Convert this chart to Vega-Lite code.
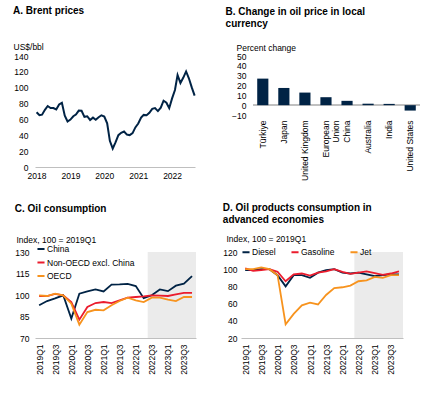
{
  "$schema": "https://vega.github.io/schema/vega-lite/v6.json",
  "padding": {"left": 13, "top": 6, "right": 5, "bottom": 5},
  "config": {
    "font": "Liberation Sans",
    "view": {"stroke": null},
    "title": {"anchor": "start", "frame": "bounds", "fontSize": 10, "fontWeight": "bold", "color": "#000000", "font": "Liberation Sans", "lineHeight": 12},
    "axis": {"labelFont": "Liberation Sans", "labelFontSize": 8.5, "labelColor": "#000000", "titleFont": "Liberation Sans", "titleFontSize": 8.5, "titleFontWeight": "normal", "titleColor": "#000000", "ticks": false, "grid": false, "domainColor": "#bfbfbf", "labelOverlap": false},
    "legend": {"labelFont": "Liberation Sans", "labelFontSize": 8.5, "labelColor": "#000000", "symbolType": "stroke", "symbolStrokeWidth": 2, "symbolSize": 50, "labelOffset": 1, "padding": 0, "rowPadding": 3.5}
  },
  "resolve": {"scale": {"color": "independent"}, "legend": {"color": "independent"}},
  "spacing": 22,
  "vconcat": [
    {
      "spacing": 26,
      "hconcat": [
        {
          "title": {"text": "A. Brent prices", "offset": 26},
          "width": 160,
          "height": 111,
          "data": {"values": [
            {"date": "2018-01-01", "price": 69.1}, {"date": "2018-02-01", "price": 65.3}, {"date": "2018-03-01", "price": 66.0}, {"date": "2018-04-01", "price": 72.1}, {"date": "2018-05-01", "price": 76.9}, {"date": "2018-06-01", "price": 74.4}, {"date": "2018-07-01", "price": 74.3}, {"date": "2018-08-01", "price": 72.5}, {"date": "2018-09-01", "price": 78.9}, {"date": "2018-10-01", "price": 81.0}, {"date": "2018-11-01", "price": 64.8}, {"date": "2018-12-01", "price": 57.4},
            {"date": "2019-01-01", "price": 59.8}, {"date": "2019-02-01", "price": 64.0}, {"date": "2019-03-01", "price": 66.1}, {"date": "2019-04-01", "price": 71.2}, {"date": "2019-05-01", "price": 71.0}, {"date": "2019-06-01", "price": 63.3}, {"date": "2019-07-01", "price": 64.0}, {"date": "2019-08-01", "price": 59.3}, {"date": "2019-09-01", "price": 62.3}, {"date": "2019-10-01", "price": 59.6}, {"date": "2019-11-01", "price": 62.7}, {"date": "2019-12-01", "price": 65.2},
            {"date": "2020-01-01", "price": 63.6}, {"date": "2020-02-01", "price": 55.0}, {"date": "2020-03-01", "price": 33.0}, {"date": "2020-04-01", "price": 23.3}, {"date": "2020-05-01", "price": 31.0}, {"date": "2020-06-01", "price": 40.1}, {"date": "2020-07-01", "price": 43.2}, {"date": "2020-08-01", "price": 44.7}, {"date": "2020-09-01", "price": 40.9}, {"date": "2020-10-01", "price": 40.2}, {"date": "2020-11-01", "price": 42.7}, {"date": "2020-12-01", "price": 49.9},
            {"date": "2021-01-01", "price": 54.8}, {"date": "2021-02-01", "price": 62.2}, {"date": "2021-03-01", "price": 65.7}, {"date": "2021-04-01", "price": 65.3}, {"date": "2021-05-01", "price": 68.3}, {"date": "2021-06-01", "price": 73.4}, {"date": "2021-07-01", "price": 74.3}, {"date": "2021-08-01", "price": 70.5}, {"date": "2021-09-01", "price": 74.9}, {"date": "2021-10-01", "price": 83.6}, {"date": "2021-11-01", "price": 81.1}, {"date": "2021-12-01", "price": 74.2},
            {"date": "2022-01-01", "price": 86.5}, {"date": "2022-02-01", "price": 97.1}, {"date": "2022-03-01", "price": 116.0}, {"date": "2022-04-01", "price": 106.0}, {"date": "2022-05-01", "price": 112.5}, {"date": "2022-06-01", "price": 120.5}, {"date": "2022-07-01", "price": 111.9}, {"date": "2022-08-01", "price": 100.4}, {"date": "2022-09-01", "price": 90.0}
          ]},
          "mark": {"type": "line", "color": "#002345", "strokeWidth": 2},
          "encoding": {
            "x": {"field": "date", "type": "temporal",
              "scale": {"type": "utc", "domain": [{"year": 2017, "month": 12, "date": 15, "utc": true}, {"year": 2022, "month": 9, "date": 5, "utc": true}]},
              "axis": {"title": null, "format": "%Y", "tickCount": {"interval": "year", "step": 1}, "labelFlush": false, "labelPadding": 4}},
            "y": {"field": "price", "type": "quantitative",
              "scale": {"domain": [0, 140], "nice": false},
              "axis": {"title": "US$/bbl", "values": [0, 20, 40, 60, 80, 100, 120, 140], "domain": false, "labelPadding": 7, "titleAngle": 0, "titleAlign": "left", "titleBaseline": "middle", "titleX": -22, "titleY": -10}}
          }
        },
        {
          "title": {"text": ["B. Change in oil price in local", "currency"], "offset": 14, "dx": -6},
          "width": 167,
          "height": 59,
          "data": {"values": [
            {"country": "Türkiye", "change": 27.0},
            {"country": "Japan", "change": 17.5},
            {"country": "United Kingdom", "change": 12.8},
            {"country": "European Union", "change": 8.1},
            {"country": "China", "change": 4.4},
            {"country": "Australia", "change": 1.5},
            {"country": "India", "change": 1.3},
            {"country": "United States", "change": -5.5}
          ]},
          "layer": [
            {
              "mark": {"type": "rule", "color": "#bfbfbf"},
              "encoding": {"y": {"datum": 0, "type": "quantitative",
                  "scale": {"domain": [-10, 50], "nice": false, "zero": false},
                  "axis": {"title": "Percent change", "values": [-10, 0, 10, 20, 30, 40, 50], "domain": false, "labelPadding": 7, "titleAngle": 0, "titleAlign": "left", "titleBaseline": "middle", "titleX": -17, "titleY": -9}}}
            },
            {
              "mark": {"type": "bar", "color": "#002345"},
              "encoding": {
                "x": {"field": "country", "type": "nominal", "sort": null,
                  "scale": {"paddingInner": 0.47, "paddingOuter": 0.2},
                  "axis": {"title": null, "labelAngle": -90, "domain": false, "labelPadding": 5, "labelLineHeight": 10,
                    "labelExpr": "datum.value == 'European Union' ? ['European', 'Union'] : datum.value"}},
                "y": {"field": "change", "type": "quantitative",
                  "scale": {"domain": [-10, 50], "nice": false, "zero": false},
                  "axis": {"title": "Percent change", "values": [-10, 0, 10, 20, 30, 40, 50], "domain": false, "labelPadding": 7, "titleAngle": 0, "titleAlign": "left", "titleBaseline": "middle", "titleX": -17, "titleY": -9}}
              }
            }
          ]
        }
      ],
      "resolve": {"scale": {"color": "independent"}, "legend": {"color": "independent"}}
    },
    {
      "spacing": 26,
      "hconcat": [
        {
          "title": {"text": "C. Oil consumption", "offset": 21},
          "width": 161,
          "height": 86,
          "layer": [
            {
              "data": {"values": [{"start": "2022-05-16", "end": "2023-11-15"}]},
              "mark": {"type": "rect", "color": "#ebebeb"},
              "encoding": {
                "x": {"field": "start", "type": "temporal"},
                "x2": {"field": "end"},
                "y": {"datum": 130, "type": "quantitative",
                  "axis": {"title": "Index, 100 = 2019Q1", "values": [70, 85, 100, 115, 130], "domain": false, "labelPadding": 6, "titleAngle": 0, "titleAlign": "left", "titleBaseline": "middle", "titleX": -19, "titleY": -13}},
                "y2": {"datum": 70}
              }
            },
            {
              "mark": {"type": "rule", "color": "#a6a6a6"},
              "encoding": {"y": {"datum": 100, "type": "quantitative",
                  "axis": {"title": "Index, 100 = 2019Q1", "values": [70, 85, 100, 115, 130], "domain": false, "labelPadding": 6, "titleAngle": 0, "titleAlign": "left", "titleBaseline": "middle", "titleX": -19, "titleY": -13}}}
            },
            {
              "data": {"values": [
                {"q": "2019-01-01", "s": "China", "v": 92.8}, {"q": "2019-04-01", "s": "China", "v": 95.8}, {"q": "2019-07-01", "s": "China", "v": 97.6}, {"q": "2019-10-01", "s": "China", "v": 99.8},
                {"q": "2020-01-01", "s": "China", "v": 83.5}, {"q": "2020-04-01", "s": "China", "v": 100.9}, {"q": "2020-07-01", "s": "China", "v": 102.5}, {"q": "2020-10-01", "s": "China", "v": 103.9},
                {"q": "2021-01-01", "s": "China", "v": 102.5}, {"q": "2021-04-01", "s": "China", "v": 107.2}, {"q": "2021-07-01", "s": "China", "v": 107.4}, {"q": "2021-10-01", "s": "China", "v": 107.8},
                {"q": "2022-01-01", "s": "China", "v": 106.2}, {"q": "2022-04-01", "s": "China", "v": 97.8}, {"q": "2022-07-01", "s": "China", "v": 99.8}, {"q": "2022-10-01", "s": "China", "v": 103.9},
                {"q": "2023-01-01", "s": "China", "v": 102.7}, {"q": "2023-04-01", "s": "China", "v": 106.5}, {"q": "2023-07-01", "s": "China", "v": 107.9}, {"q": "2023-10-01", "s": "China", "v": 113.2},
                {"q": "2019-01-01", "s": "Non-OECD excl. China", "v": 99.3}, {"q": "2019-04-01", "s": "Non-OECD excl. China", "v": 99.3}, {"q": "2019-07-01", "s": "Non-OECD excl. China", "v": 100.8}, {"q": "2019-10-01", "s": "Non-OECD excl. China", "v": 99.7},
                {"q": "2020-01-01", "s": "Non-OECD excl. China", "v": 95.1}, {"q": "2020-04-01", "s": "Non-OECD excl. China", "v": 82.8}, {"q": "2020-07-01", "s": "Non-OECD excl. China", "v": 91.6}, {"q": "2020-10-01", "s": "Non-OECD excl. China", "v": 94.4},
                {"q": "2021-01-01", "s": "Non-OECD excl. China", "v": 95.1}, {"q": "2021-04-01", "s": "Non-OECD excl. China", "v": 94.4}, {"q": "2021-07-01", "s": "Non-OECD excl. China", "v": 96.3}, {"q": "2021-10-01", "s": "Non-OECD excl. China", "v": 98.1},
                {"q": "2022-01-01", "s": "Non-OECD excl. China", "v": 98.6}, {"q": "2022-04-01", "s": "Non-OECD excl. China", "v": 99.0}, {"q": "2022-07-01", "s": "Non-OECD excl. China", "v": 99.7}, {"q": "2022-10-01", "s": "Non-OECD excl. China", "v": 99.5},
                {"q": "2023-01-01", "s": "Non-OECD excl. China", "v": 99.3}, {"q": "2023-04-01", "s": "Non-OECD excl. China", "v": 100.5}, {"q": "2023-07-01", "s": "Non-OECD excl. China", "v": 101.5}, {"q": "2023-10-01", "s": "Non-OECD excl. China", "v": 101.5},
                {"q": "2019-01-01", "s": "OECD", "v": 99.7}, {"q": "2019-04-01", "s": "OECD", "v": 99.3}, {"q": "2019-07-01", "s": "OECD", "v": 100.9}, {"q": "2019-10-01", "s": "OECD", "v": 99.7},
                {"q": "2020-01-01", "s": "OECD", "v": 93.9}, {"q": "2020-04-01", "s": "OECD", "v": 79.3}, {"q": "2020-07-01", "s": "OECD", "v": 88.1}, {"q": "2020-10-01", "s": "OECD", "v": 89.7},
                {"q": "2021-01-01", "s": "OECD", "v": 89.3}, {"q": "2021-04-01", "s": "OECD", "v": 92.8}, {"q": "2021-07-01", "s": "OECD", "v": 95.8}, {"q": "2021-10-01", "s": "OECD", "v": 98.1},
                {"q": "2022-01-01", "s": "OECD", "v": 96.3}, {"q": "2022-04-01", "s": "OECD", "v": 95.1}, {"q": "2022-07-01", "s": "OECD", "v": 98.1}, {"q": "2022-10-01", "s": "OECD", "v": 98.1},
                {"q": "2023-01-01", "s": "OECD", "v": 96.7}, {"q": "2023-04-01", "s": "OECD", "v": 95.8}, {"q": "2023-07-01", "s": "OECD", "v": 98.6}, {"q": "2023-10-01", "s": "OECD", "v": 98.6}
              ]},
              "mark": {"type": "line", "strokeWidth": 1.8},
              "encoding": {
                "x": {"field": "q", "type": "temporal",
                  "scale": {"type": "utc", "domain": [{"year": 2018, "month": 11, "date": 15, "utc": true}, {"year": 2023, "month": 11, "date": 15, "utc": true}]},
                  "axis": {"title": null, "format": "%YQ%q", "tickCount": {"interval": "month", "step": 6}, "labelAngle": -90, "labelFlush": false, "labelOverlap": false, "labelPadding": 6}},
                "y": {"field": "v", "type": "quantitative",
                  "scale": {"domain": [70, 130], "nice": false, "zero": false},
                  "axis": {"title": "Index, 100 = 2019Q1", "values": [70, 85, 100, 115, 130], "domain": false, "labelPadding": 6, "titleAngle": 0, "titleAlign": "left", "titleBaseline": "middle", "titleX": -19, "titleY": -13}},
                "color": {"field": "s", "type": "nominal", "sort": ["China", "Non-OECD excl. China", "OECD"],
                  "scale": {"domain": ["China", "Non-OECD excl. China", "OECD"], "range": ["#002345", "#eb1c2d", "#f7931e"]},
                  "legend": {"title": null, "orient": "none", "legendX": 1, "legendY": -8, "direction": "vertical"}}
              }
            }
          ]
        },
        {
          "title": {"text": ["D. Oil products consumption in", "advanced economies"], "offset": 9},
          "width": 162,
          "height": 86,
          "layer": [
            {
              "data": {"values": [{"start": "2022-05-16", "end": "2023-11-15"}]},
              "mark": {"type": "rect", "color": "#ebebeb"},
              "encoding": {
                "x": {"field": "start", "type": "temporal"},
                "x2": {"field": "end"},
                "y": {"datum": 120, "type": "quantitative",
                  "axis": {"title": "Index, 100 = 2019Q1", "values": [20, 40, 60, 80, 100, 120], "domain": false, "labelPadding": 4, "titleAngle": 0, "titleAlign": "left", "titleBaseline": "middle", "titleX": -15, "titleY": -14}},
                "y2": {"datum": 20}
              }
            },
            {
              "mark": {"type": "rule", "color": "#a6a6a6"},
              "encoding": {"y": {"datum": 100, "type": "quantitative",
                  "axis": {"title": "Index, 100 = 2019Q1", "values": [20, 40, 60, 80, 100, 120], "domain": false, "labelPadding": 4, "titleAngle": 0, "titleAlign": "left", "titleBaseline": "middle", "titleX": -15, "titleY": -14}}}
            },
            {
              "data": {"values": [
                {"q": "2019-01-01", "s": "Diesel", "v": 99}, {"q": "2019-04-01", "s": "Diesel", "v": 99}, {"q": "2019-07-01", "s": "Diesel", "v": 100}, {"q": "2019-10-01", "s": "Diesel", "v": 100},
                {"q": "2020-01-01", "s": "Diesel", "v": 93}, {"q": "2020-04-01", "s": "Diesel", "v": 80}, {"q": "2020-07-01", "s": "Diesel", "v": 93}, {"q": "2020-10-01", "s": "Diesel", "v": 93},
                {"q": "2021-01-01", "s": "Diesel", "v": 90}, {"q": "2021-04-01", "s": "Diesel", "v": 96}, {"q": "2021-07-01", "s": "Diesel", "v": 99}, {"q": "2021-10-01", "s": "Diesel", "v": 100},
                {"q": "2022-01-01", "s": "Diesel", "v": 96}, {"q": "2022-04-01", "s": "Diesel", "v": 95}, {"q": "2022-07-01", "s": "Diesel", "v": 96}, {"q": "2022-10-01", "s": "Diesel", "v": 94},
                {"q": "2023-01-01", "s": "Diesel", "v": 92}, {"q": "2023-04-01", "s": "Diesel", "v": 93}, {"q": "2023-07-01", "s": "Diesel", "v": 94}, {"q": "2023-10-01", "s": "Diesel", "v": 94},
                {"q": "2019-01-01", "s": "Gasoline", "v": 101}, {"q": "2019-04-01", "s": "Gasoline", "v": 98}, {"q": "2019-07-01", "s": "Gasoline", "v": 99}, {"q": "2019-10-01", "s": "Gasoline", "v": 100},
                {"q": "2020-01-01", "s": "Gasoline", "v": 97}, {"q": "2020-04-01", "s": "Gasoline", "v": 86}, {"q": "2020-07-01", "s": "Gasoline", "v": 94}, {"q": "2020-10-01", "s": "Gasoline", "v": 95},
                {"q": "2021-01-01", "s": "Gasoline", "v": 92.5}, {"q": "2021-04-01", "s": "Gasoline", "v": 96}, {"q": "2021-07-01", "s": "Gasoline", "v": 97.5}, {"q": "2021-10-01", "s": "Gasoline", "v": 100},
                {"q": "2022-01-01", "s": "Gasoline", "v": 97}, {"q": "2022-04-01", "s": "Gasoline", "v": 94.5}, {"q": "2022-07-01", "s": "Gasoline", "v": 96}, {"q": "2022-10-01", "s": "Gasoline", "v": 97.5},
                {"q": "2023-01-01", "s": "Gasoline", "v": 95.5}, {"q": "2023-04-01", "s": "Gasoline", "v": 93.5}, {"q": "2023-07-01", "s": "Gasoline", "v": 95}, {"q": "2023-10-01", "s": "Gasoline", "v": 97.5},
                {"q": "2019-01-01", "s": "Jet", "v": 100}, {"q": "2019-04-01", "s": "Jet", "v": 100}, {"q": "2019-07-01", "s": "Jet", "v": 102}, {"q": "2019-10-01", "s": "Jet", "v": 100},
                {"q": "2020-01-01", "s": "Jet", "v": 93}, {"q": "2020-04-01", "s": "Jet", "v": 36}, {"q": "2020-07-01", "s": "Jet", "v": 48}, {"q": "2020-10-01", "s": "Jet", "v": 58},
                {"q": "2021-01-01", "s": "Jet", "v": 61}, {"q": "2021-04-01", "s": "Jet", "v": 59}, {"q": "2021-07-01", "s": "Jet", "v": 70}, {"q": "2021-10-01", "s": "Jet", "v": 78},
                {"q": "2022-01-01", "s": "Jet", "v": 79}, {"q": "2022-04-01", "s": "Jet", "v": 81}, {"q": "2022-07-01", "s": "Jet", "v": 86}, {"q": "2022-10-01", "s": "Jet", "v": 87},
                {"q": "2023-01-01", "s": "Jet", "v": 91}, {"q": "2023-04-01", "s": "Jet", "v": 90}, {"q": "2023-07-01", "s": "Jet", "v": 93}, {"q": "2023-10-01", "s": "Jet", "v": 93}
              ]},
              "mark": {"type": "line", "strokeWidth": 1.8},
              "encoding": {
                "x": {"field": "q", "type": "temporal",
                  "scale": {"type": "utc", "domain": [{"year": 2018, "month": 11, "date": 15, "utc": true}, {"year": 2023, "month": 11, "date": 15, "utc": true}]},
                  "axis": {"title": null, "format": "%YQ%q", "tickCount": {"interval": "month", "step": 6}, "labelAngle": -90, "labelFlush": false, "labelOverlap": false, "labelPadding": 6}},
                "y": {"field": "v", "type": "quantitative",
                  "scale": {"domain": [20, 120], "nice": false, "zero": false},
                  "axis": {"title": "Index, 100 = 2019Q1", "values": [20, 40, 60, 80, 100, 120], "domain": false, "labelPadding": 4, "titleAngle": 0, "titleAlign": "left", "titleBaseline": "middle", "titleX": -15, "titleY": -14}},
                "color": {"field": "s", "type": "nominal", "sort": ["Diesel", "Gasoline", "Jet"],
                  "scale": {"domain": ["Diesel", "Gasoline", "Jet"], "range": ["#002345", "#eb1c2d", "#f7931e"]},
                  "legend": {"title": null, "orient": "none", "legendX": 0, "legendY": -5, "direction": "horizontal", "columns": 3, "columnPadding": 11}}
              }
            }
          ]
        }
      ],
      "resolve": {"scale": {"color": "independent"}, "legend": {"color": "independent"}}
    }
  ]
}
